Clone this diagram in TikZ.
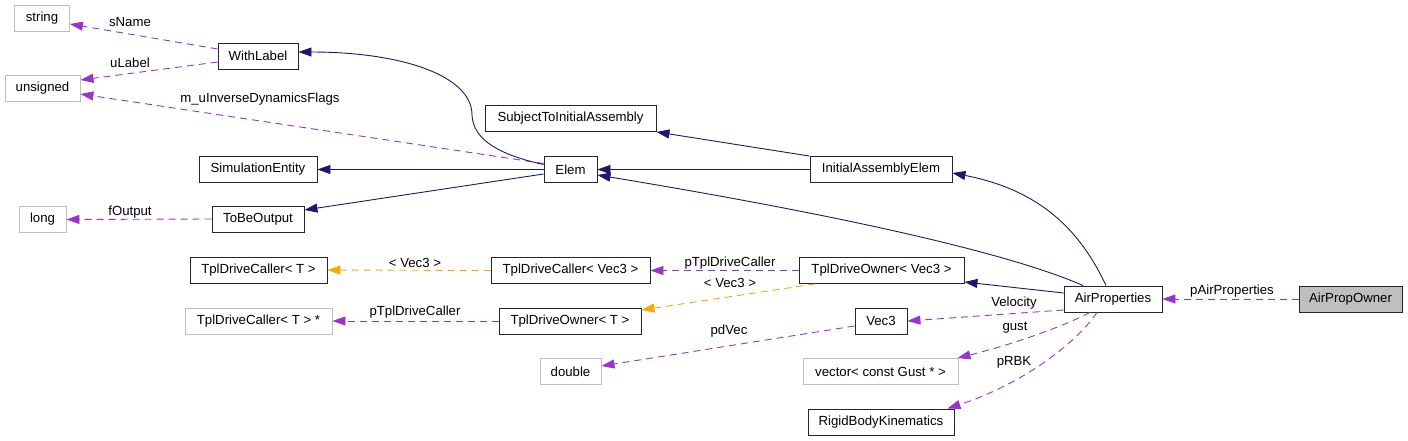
\documentclass[tikz,border=0pt]{standalone}
\usepackage{fontspec}
\setmainfont{Liberation Sans}
\usetikzlibrary{arrows.meta}
\definecolor{navy}{HTML}{191970}
\definecolor{orchid}{HTML}{9A32CD}
\definecolor{tmplorange}{HTML}{FFA500}
\definecolor{extgray}{HTML}{BFBFBF}

\begin{document}
\begin{tikzpicture}[x=1pt, y=-1pt,
    every node/.style = {inner sep=0pt, font=\fontsize{13.2}{15}\selectfont},
    cls/.style = {draw=black!85, line width=0.9pt, minimum height=26pt},
    ext/.style = {draw=extgray, line width=0.9pt, minimum height=26pt},
    inherit/.style = {draw=navy, line width=0.9pt, -{Triangle[length=13pt, width=9pt]}},
    member/.style = {draw=orchid, line width=0.9pt, dash pattern=on 7pt off 5pt, -{Triangle[length=13pt, width=9pt]}},
    tmpl/.style = {draw=tmplorange, line width=0.9pt, dash pattern=on 7pt off 5pt, -{Triangle[length=13pt, width=9pt]}}]
    \useasboundingbox (0,0) rectangle (1408,441);
    \node[ext, minimum width=55pt] (string) at (42,18.5) {string};
    \node[ext, minimum width=75pt] (unsigned) at (42.5,88) {unsigned};
    \node[ext, minimum width=47pt] (long) at (42.5,219.5) {long};
    \node[cls, minimum width=80pt] (WithLabel) at (258,56) {WithLabel};
    \node[cls, minimum width=118pt] (SimulationEntity) at (258,169.5) {SimulationEntity};
    \node[cls, minimum width=92pt] (ToBeOutput) at (258,219) {ToBeOutput};
    \node[cls, minimum width=137pt] (TplDriveCallerT) at (258.5,270) {TplDriveCaller< T >};
    \node[ext, minimum width=147pt] (TplDriveCallerTptr) at (258.5,321) {TplDriveCaller< T > *};
    \node[cls, minimum width=171pt] (SubjectToInitialAssembly) at (570.5,118.5) {SubjectToInitialAssembly};
    \node[cls, minimum width=53pt] (Elem) at (570.5,169.5) {Elem};
    \node[cls, minimum width=159pt] (TplDriveCallerVec) at (570.5,270.5) {TplDriveCaller< Vec3 >};
    \node[cls, minimum width=142pt] (TplDriveOwnerT) at (570,321) {TplDriveOwner< T >};
    \node[ext, minimum width=61pt] (double) at (570.5,371.5) {double};
    \node[cls, minimum width=142pt] (InitialAssemblyElem) at (881,169.5) {InitialAssemblyElem};
    \node[cls, minimum width=165pt] (TplDriveOwnerVec) at (881.5,270.5) {TplDriveOwner< Vec3 >};
    \node[cls, minimum width=52pt] (Vec3) at (881,321) {Vec3};
    \node[ext, minimum width=155pt] (vectorGust) at (880.5,371.5) {vector< const Gust * >};
    \node[cls, minimum width=146pt] (RigidBodyKinematics) at (881,422) {RigidBodyKinematics};
    \node[cls, minimum width=98pt] (AirProperties) at (1113,299) {AirProperties};
    \node[cls, fill=extgray, minimum width=103pt] (AirPropOwner) at (1350.5,299) {AirPropOwner};
    \draw[member] ([yshift=7pt]WithLabel.west) -- ([yshift=-5.5pt]string.east);
    \draw[member] ([yshift=-6pt]WithLabel.west) -- ([yshift=8pt]unsigned.east);
    \draw[member] ([yshift=6pt]Elem.west) -- ([yshift=-6pt]unsigned.east);
    \draw[inherit] ([yshift=5pt]Elem.west) .. controls (500,155) and (473,140) .. (472,115)
        .. controls (472,75) and (400,52) .. ([yshift=4pt]WithLabel.east);
    \draw[inherit] (Elem.west) -- (SimulationEntity.east);
    \draw[inherit] ([yshift=-4.5pt]Elem.west) -- ([yshift=9pt]ToBeOutput.east);
    \draw[member] (ToBeOutput.west) -- (long.east);
    \draw[inherit] (InitialAssemblyElem.west) -- (Elem.east);
    \draw[inherit] (InitialAssemblyElem.north west) -- (SubjectToInitialAssembly.south east);
    \draw[inherit] ([xshift=-30pt]AirProperties.north) .. controls (1030,262) and (900,225) .. ([yshift=-5.5pt]Elem.east);
    \draw[inherit] ([xshift=-7pt]AirProperties.north) .. controls (1080,230) and (1040,190) .. ([yshift=-3.5pt]InitialAssemblyElem.east);
    \draw[inherit] ([yshift=6pt]AirProperties.west) -- ([yshift=-11.5pt]TplDriveOwnerVec.east);
    \draw[member] (AirPropOwner.west) -- (AirProperties.east);
    \draw[member] ([yshift=-11pt]AirProperties.west) -- (Vec3.east);
    \draw[member] ([xshift=-23pt]AirProperties.south) .. controls (1060,328) and (1010,345) .. ([xshift=-1pt]vectorGust.north east);
    \draw[member] ([xshift=-16pt]AirProperties.south) .. controls (1075,345) and (1020,385) .. ([xshift=-7pt]RigidBodyKinematics.north east);
    \draw[member] (TplDriveOwnerVec.west) -- (TplDriveCallerVec.east);
    \draw[tmpl] (TplDriveCallerVec.west) -- (TplDriveCallerT.east);
    \draw[tmpl] ([xshift=-66.5pt]TplDriveOwnerVec.south) -- ([yshift=11pt]TplDriveOwnerT.east);
    \draw[member] (TplDriveOwnerT.west) -- (TplDriveCallerTptr.east);
    \draw[member] ([yshift=-5pt]Vec3.west) -- ([yshift=5.5pt]double.east);
    \node (sName) at (130,22) {sName};
    \node (uLabel) at (130,63) {uLabel};
    \node (mFlags) at (260,99) {m\_uInverseDynamicsFlags};
    \node (fOutput) at (130,212) {fOutput};
    \node (argT) at (415,263) {< Vec3 >};
    \node (pCallerVec) at (730,263) {pTplDriveCaller};
    \node (argOwner) at (730,283) {< Vec3 >};
    \node (pCallerT) at (415,312) {pTplDriveCaller};
    \node (pdVec) at (729,331) {pdVec};
    \node (Velocity) at (1014,303) {Velocity};
    \node (gust) at (1015,328) {gust};
    \node (pRBK) at (1014,362) {pRBK};
    \node (pAirProperties) at (1232,291) {pAirProperties};
\end{tikzpicture}
\end{document}
